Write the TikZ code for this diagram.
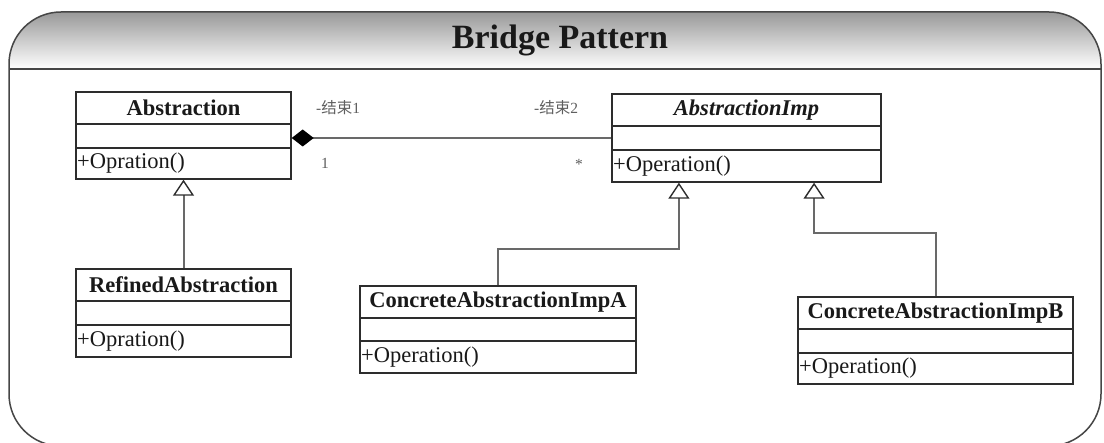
\documentclass[tikz,border=0pt]{standalone}
\usepackage{fontspec}
\setmainfont{Liberation Serif}
\newfontfamily\cjk{Noto Sans CJK SC}
\usetikzlibrary{arrows.meta,fit,calc}
\definecolor{boxline}{RGB}{45,45,45}
\definecolor{connline}{RGB}{105,105,105}
\definecolor{frameline}{RGB}{70,70,70}
\definecolor{txt}{RGB}{25,25,25}
\definecolor{lbl}{RGB}{95,95,95}
\tikzset{
  classbox/.style={draw=boxline, line width=1.4pt, inner sep=0pt, fill=white},
  divider/.style={draw=boxline, line width=1.4pt},
  classtitle/.style={font=\fontsize{22.5}{24}\selectfont\bfseries, text=txt, inner sep=0pt, anchor=center},
  classop/.style={font=\fontsize{22.5}{24}\selectfont, text=txt, inner sep=0pt, anchor=west},
  rolelbl/.style={font=\fontsize{15.5}{17}\selectfont, text=lbl, inner sep=0pt},
  inherit/.style={draw=connline, line width=2pt, -{Triangle[open, length=16pt, width=21pt, line width=1.4pt, color=boxline, fill=white]}},
  assoc/.style={draw=connline, line width=2pt, -{Diamond[length=22pt, width=17pt, color=black, fill=black]}}
}
\newcommand\umlclassbox[9]{%
  \coordinate (#1-nw) at (#2,#3);
  \coordinate (#1-se) at (#4,#5);
  \node[classbox, fit=(#1-nw)(#1-se)] (#1) {};
  \draw[divider] (#2,#6) -- (#4,#6);
  \draw[divider] (#2,#7) -- (#4,#7);
  \node[classtitle] (#1-title) at ({(#2+#4)/2},{(#3+#6)/2}) {#8};
  \node[classop] (#1-op) at ({#2+1},{(#7+#5)/2}) {#9};
}
\begin{document}
\begin{tikzpicture}[x=1pt,y=-1pt]
\useasboundingbox (0,0) rectangle (1104,443);
\fill[white] (0,0) rectangle (1104,443);
% frame and header
\begin{scope}
  \clip[rounded corners=52pt] (9,12) rectangle (1101,446);
  \shade[top color=black!40, bottom color=white] (9,12) rectangle (1101,69);
\end{scope}
\draw[frameline, line width=1.5pt] (9,69) -- (1101,69);
\draw[frameline, line width=1.5pt, rounded corners=52pt] (9,12) rectangle (1101,446);
\node[font=\fontsize{34}{37}\selectfont\bfseries, text=txt] (title) at (560,40) {Bridge Pattern};
% classes
\umlclassbox{abs}{76}{92}{291}{179}{124}{148}{Abstraction}{+Opration()}
\umlclassbox{imp}{612}{94}{881}{182}{126}{150}{\itshape AbstractionImp}{+Operation()}
\umlclassbox{ref}{76}{269}{291}{357}{301}{325}{RefinedAbstraction}{+Opration()}
\umlclassbox{caia}{360}{286}{636}{373}{318}{341}{ConcreteAbstractionImpA}{+Operation()}
\umlclassbox{caib}{798}{297}{1073}{384}{329}{353}{ConcreteAbstractionImpB}{+Operation()}
% connectors
\draw[assoc] (imp.west) -- (abs.east |- imp.west);
\draw[inherit] (ref.north) -- (abs.south);
\draw[inherit] (caia.north) -- ++(0,-36) -| ($(imp.south west)!0.25!(imp.south east)$);
\draw[inherit] (caib.north) -- ++(0,-63) -| ($(imp.south west)!0.75!(imp.south east)$);
% role labels
\node[rolelbl, anchor=west] (r1) at (316,108) {-{\cjk 结束}1};
\node[rolelbl, anchor=west] (r2) at (534,108) {-{\cjk 结束}2};
\node[rolelbl] (m1) at (325,163) {1};
\node[rolelbl] (m2) at (579,164) {*};
\end{tikzpicture}
\end{document}
